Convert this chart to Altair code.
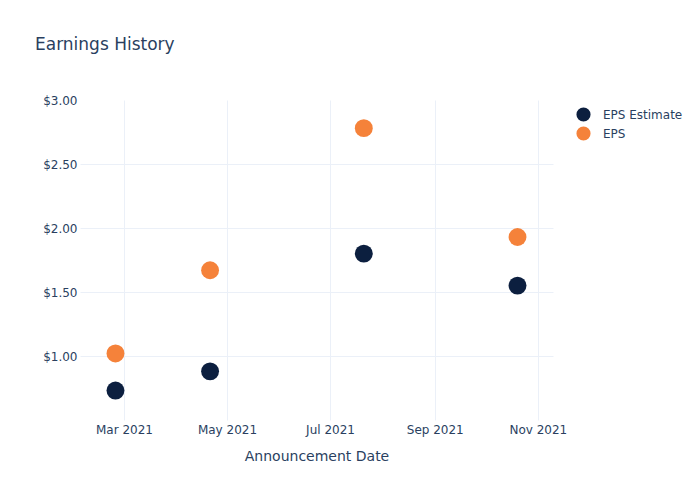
import altair as alt
import pandas as pd

# ---- data ----
dates = ["2021-02-24", "2021-04-21", "2021-07-21", "2021-10-20"]
eps_estimate = [0.73, 0.88, 1.80, 1.55]
eps_actual = [1.02, 1.67, 2.78, 1.93]
series = ["EPS Estimate", "EPS"]
colors = ["#0c1f3f", "#f5823a"]
x_ticks = ["2021-03-01", "2021-05-01", "2021-07-01", "2021-09-01", "2021-11-01"]
x_domain = ["2021-02-03", "2021-11-10"]
y_ticks = [1.0, 1.5, 2.0, 2.5, 3.0]
y_domain = [0.5, 3.0]

def dt(s):
    y, m, d = (int(p) for p in s.split("-"))
    return alt.DateTime(year=y, month=m, date=d)

rows = []
for name, vals in zip(series, [eps_estimate, eps_actual]):
    for d, v in zip(dates, vals):
        rows.append({"date": d + "T00:00:00", "value": v, "series": name})
df = pd.DataFrame(rows)

FONT = "DejaVu Sans"
TXT = "#2a3f5f"
GRID = "#ebf0f8"

chart = alt.Chart(df).mark_circle(size=320, opacity=1).encode(
    x=alt.X(
        "date:T",
        title="Announcement Date",
        scale=alt.Scale(domain=[dt(x_domain[0]), dt(x_domain[1])]),
        axis=alt.Axis(values=[dt(t) for t in x_ticks], format="%b %Y",
                      labelPadding=4, titlePadding=14),
    ),
    y=alt.Y(
        "value:Q",
        title=None,
        scale=alt.Scale(domain=y_domain, nice=False, zero=False),
        axis=alt.Axis(values=y_ticks, format="$.2f", labelPadding=3,
                      gridOpacity={"condition": {"test": "datum.value >= 2.99", "value": 0},
                                   "value": 1}),
    ),
    color=alt.Color(
        "series:N",
        sort=series,
        scale=alt.Scale(domain=series, range=colors),
        legend=alt.Legend(title=None, orient="none", legendX=496, legendY=7,
                          symbolType="circle", symbolSize=200, symbolOpacity=1,
                          symbolStrokeWidth=0, labelOffset=12, rowPadding=4,
                          padding=0),
    ),
    order=alt.Order("series:N"),
).properties(
    width=473,
    height=320,
    title=alt.TitleParams("Earnings History", anchor="start", frame="group",
                          dx=-45, offset=40,
                          fontSize=17, font=FONT, color=TXT, fontWeight="normal"),
    padding={"left": 80, "top": 100, "right": 147, "bottom": 80},
    autosize="none",
    background="white",
).configure_view(stroke=None).configure_axis(
    labelFont=FONT, labelFontSize=12, labelColor=TXT,
    titleFont=FONT, titleFontSize=14, titleColor=TXT, titleFontWeight="normal",
    domain=False, ticks=False, gridColor=GRID, gridWidth=1,
).configure_legend(
    labelFont=FONT, labelFontSize=12, labelColor=TXT,
)

chart.save("out.html", embed_options={"renderer": "svg", "actions": False})
